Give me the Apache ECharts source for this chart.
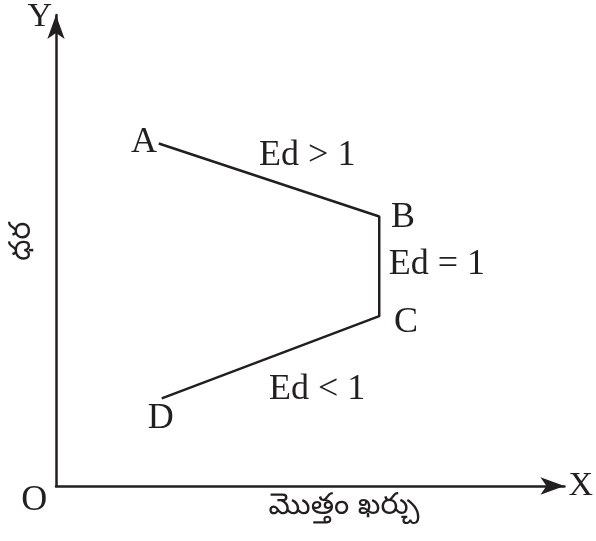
<!DOCTYPE html>
<html>
<head>
<meta charset="utf-8">
<title>ధర - మొత్తం ఖర్చు</title>
<script src="https://cdn.jsdelivr.net/npm/echarts@6/dist/echarts.min.js"></script>
<style>
  html, body { margin: 0; padding: 0; background: #fff; }
  #chart { width: 596px; height: 541px; }
</style>
</head>
<body>
<div id="chart"></div>
<script>
// curve points A -> B -> C -> D (x: total spend, y: price)
const pointNames = ['A', 'B', 'C', 'D']
const curveX = [20.7, 65.1, 65.1, 21.3]
const curveY = [74.6, 58.7, 37.0, 19.1]

// text labels placed in data units
const labelTexts = ['A', 'B', 'C', 'D', 'Ed > 1', 'Ed = 1', 'Ed < 1', 'O']
const labelX = [17.7, 69.9, 70.5, 21.1, 50.6, 76.7, 52.6, -4.4]
const labelY = [74.8, 58.5, 35.7, 14.6, 72.0, 48.2, 21.1, -3.2]

const xTitle = 'మొత్తం ఖర్చు'
const yTitle = 'ధర'

const ink = '#231f20'
const serif = '"Liberation Serif", "DejaVu Serif", serif'

const curveData = curveX.map((x, i) => ({ name: pointNames[i], value: [x, curveY[i]] }))
const labelData = labelTexts.map((t, i) => ({ name: t, value: [labelX[i], labelY[i]] }))

const axisCommon = {
  type: 'value',
  min: 0,
  splitLine: { show: false },
  axisTick: { show: false },
  axisLabel: { show: false },
  axisLine: {
    show: true,
    onZero: false,
    symbol: ['none', 'arrow'],
    symbolSize: [13, 24],
    lineStyle: { color: ink, width: 2.5 }
  },
  nameTextStyle: { fontFamily: serif, fontSize: 34, color: ink }
}

const option = {
  animation: false,
  backgroundColor: '#fff',
  grid: { left: 56, right: 26, top: 9, bottom: 55 },
  xAxis: Object.assign({}, axisCommon, {
    max: 102.4,
    name: 'X',
    nameLocation: 'end',
    nameGap: 4,
    nameTextStyle: Object.assign({}, axisCommon.nameTextStyle, { verticalAlign: 'middle' })
  }),
  yAxis: Object.assign({}, axisCommon, {
    max: 102.6,
    name: 'Y',
    nameLocation: 'end',
    nameGap: -19,
    nameTextStyle: Object.assign({}, axisCommon.nameTextStyle, {
      align: 'right',
      verticalAlign: 'bottom',
      padding: [0, 4, 0, 0]
    })
  }),
  series: [
    {
      type: 'line',
      data: curveData,
      symbol: 'none',
      lineStyle: { color: ink, width: 2.5 },
      silent: true
    },
    {
      type: 'scatter',
      data: labelData,
      symbolSize: 0,
      clip: false,
      silent: true,
      itemStyle: { opacity: 1 },
      label: {
        show: true,
        position: 'inside',
        formatter: p => p.name,
        fontFamily: serif,
        fontSize: 36,
        color: ink,
        opacity: 1
      }
    },
    {
      // axis titles in Telugu
      type: 'scatter',
      data: [
        { name: xTitle, value: [58.0, -5.2] },
        { name: yTitle, value: [-6.0, 53.3], label: { rotate: 90 } }
      ],
      symbolSize: 0,
      clip: false,
      silent: true,
      itemStyle: { opacity: 1 },
      label: {
        show: true,
        position: 'inside',
        formatter: p => p.name,
        fontFamily: '"Noto Sans Telugu", "Noto Sans", sans-serif',
        fontSize: 30,
        color: ink,
        opacity: 1
      }
    }
  ]
}

const chart = echarts.init(document.getElementById('chart'), null, { renderer: 'canvas' })
chart.setOption(option)
</script>
</body>
</html>
